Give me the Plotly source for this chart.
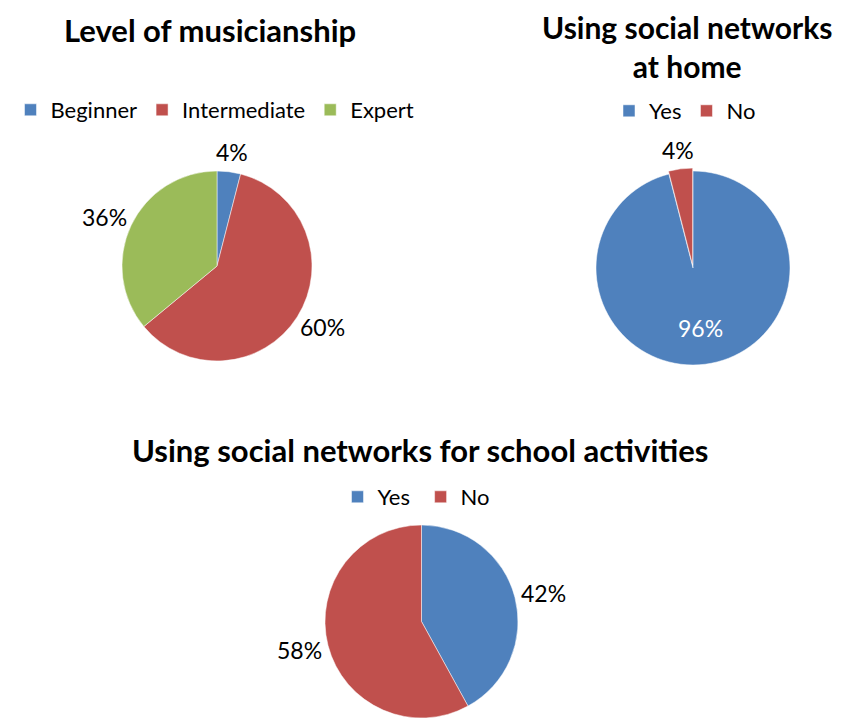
import math
import plotly.graph_objects as go

# Survey results
music_labels = ["Beginner", "Intermediate", "Expert"]
music_values = [4, 60, 36]

home_labels = ["Yes", "No"]
home_values = [96, 4]

# trailing space keeps these legend entries separate from the "at home" pie
school_labels = ["Yes ", "No "]
school_values = [42, 58]

BLUE = "#4F81BD"
RED = "#C0504D"
GREEN = "#9BBB59"
FONT = "Lato"
LABEL_SIZE = 23

W, H = 841, 718

fig = go.Figure()
annotations = []


def add_pie(labels, values, colors, cx, cy, r, legend, pull=None, inside=None):
    """Place a pie by pixel centre/radius and put percentage labels around it."""
    pull = pull or [0] * len(values)
    inside = inside or [False] * len(values)
    rd = r * (1 + max(pull))
    domain = dict(
        x=[max(0, (cx - rd) / W), min(1, (cx + rd) / W)],
        y=[max(0, 1 - (cy + rd) / H), min(1, 1 - (cy - rd) / H)],
    )
    fig.add_trace(go.Pie(
        labels=labels, values=values,
        marker=dict(colors=colors, line=dict(color="white", width=0.5)),
        sort=False, direction="clockwise", rotation=0, pull=pull,
        textinfo="none", domain=domain, legend=legend,
        hoverinfo="label+percent",
    ))
    total = sum(values)
    cum = 0.0
    for v, p, ins in zip(values, pull, inside):
        frac = v / total
        mid = (cum + frac / 2) * 2 * math.pi
        cum += frac
        s, c = math.sin(mid), math.cos(mid)
        text = f"{frac:.0%}"
        if ins:
            d = 0.62 * r
            x, y = cx + d * s, cy - d * c
            color = "white"
        else:
            d = r * (1 + p) + 8
            w = 0.63 * LABEL_SIZE * len(text)
            h = LABEL_SIZE
            x = cx + d * s + s * w / 2
            y = cy - d * c - c * h / 2
            color = "black"
        annotations.append(dict(
            text=text, x=x / W, y=1 - y / H, xref="paper", yref="paper",
            xanchor="center", yanchor="middle", showarrow=False,
            font=dict(family=FONT, size=LABEL_SIZE, color=color),
        ))


add_pie(music_labels, music_values, [BLUE, RED, GREEN], 217, 266, 95, "legend")
add_pie(home_labels, home_values, [BLUE, RED], 693, 268, 97, "legend2",
        pull=[0, 0.03], inside=[True, False])
add_pie(school_labels, school_values, [BLUE, RED], 421.5, 621.5, 96.5, "legend3")

titles = [
    ("Level of musicianship", 210, 30, 31),
    ("Using social networks<br>at home", 687, 46, 30),
    ("Using social networks for school activities", 420, 450, 31),
]
for t, x, y, size in titles:
    annotations.append(dict(
        text=f"<b>{t}</b>", x=x / W, y=1 - y / H, xref="paper", yref="paper",
        xanchor="center", yanchor="middle", showarrow=False,
        font=dict(family=FONT, size=size, color="black"),
    ))

legend_common = dict(
    orientation="h", font=dict(family=FONT, size=22, color="black"),
    bgcolor="rgba(0,0,0,0)", xanchor="center", yanchor="middle",
    itemclick=False, itemdoubleclick=False,
)

fig.update_layout(
    width=W, height=H,
    margin=dict(l=0, r=0, t=0, b=0),
    paper_bgcolor="white", plot_bgcolor="white",
    font=dict(family=FONT, color="black"),
    legend=dict(**legend_common, x=215 / W, y=1 - 110 / H),
    legend2=dict(**legend_common, x=685 / W, y=1 - 111 / H),
    legend3=dict(**legend_common, x=419 / W, y=1 - 497 / H),
    annotations=annotations,
)

fig.write_html("out.html")
